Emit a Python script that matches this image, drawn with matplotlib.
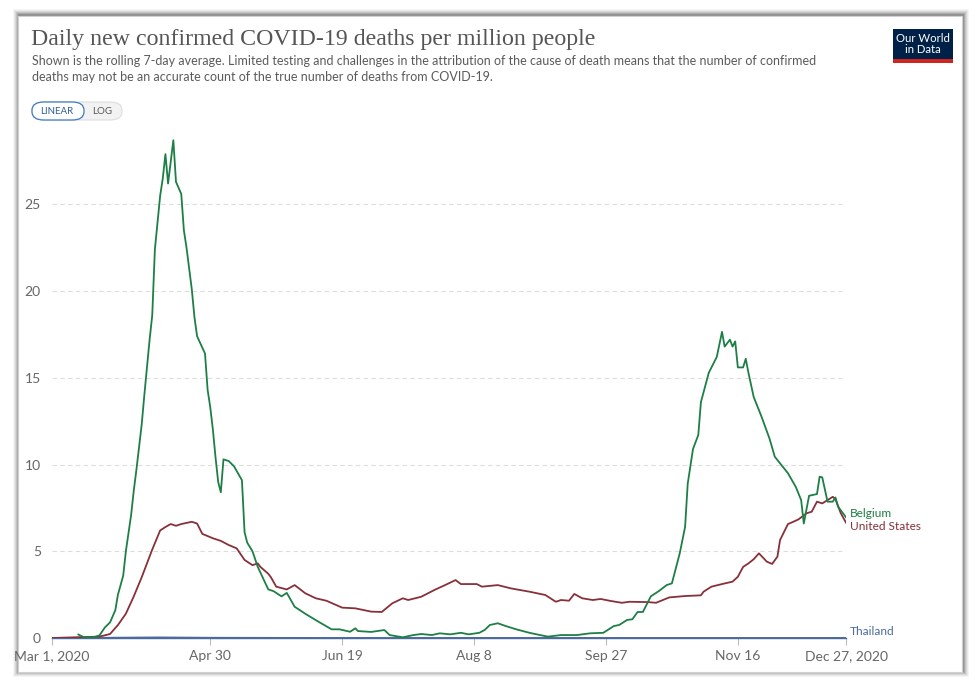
import pandas as pd
import matplotlib.pyplot as plt
from matplotlib.patches import Rectangle, FancyBboxPatch

# ------------------ Data ------------------
start = pd.Timestamp("2020-03-01")

belgium_days = [10, 12, 16, 18, 20, 22, 24, 25, 27, 28, 30, 31, 32, 34, 35, 37, 38, 39, 41, 42,
                43, 44, 46, 47, 49, 50, 51, 53, 54, 55, 58, 59, 60, 61, 62, 63, 64, 65, 67, 69,
                72, 73, 74, 76, 78, 82, 84, 87, 89, 92, 94, 96, 101, 106, 109, 113, 115, 116, 121, 126,
                128, 133, 137, 140, 144, 147, 151, 155, 158, 162, 164, 166, 169, 172, 176, 181, 185, 188, 193, 199,
                204, 209, 213, 215, 218, 220, 222, 224, 227, 230, 233, 235, 238, 240, 241, 243, 245, 246, 249, 252,
                254, 255, 257, 258, 259, 260, 262, 263, 264, 266, 269, 272, 274, 279, 282, 284, 285, 287, 290, 291,
                292, 294, 296, 297, 298, 301]
belgium_vals = [0.2, 0.05, 0.05, 0.15, 0.6, 0.9, 1.6, 2.5, 3.6, 5.0, 7.1, 8.5, 9.7, 12.3, 14.0, 17.2, 18.6, 22.4, 25.5, 26.5,
                27.9, 26.2, 28.7, 26.3, 25.6, 23.5, 22.5, 20.1, 18.5, 17.4, 16.4, 14.3, 13.3, 12.0, 10.4, 9.0, 8.4, 10.3, 10.2, 9.9,
                9.1, 6.1, 5.5, 5.0, 4.1, 2.8, 2.7, 2.4, 2.6, 1.8, 1.6, 1.4, 0.94, 0.5, 0.5, 0.36, 0.56, 0.4, 0.35, 0.46,
                0.17, 0.04, 0.17, 0.23, 0.17, 0.27, 0.21, 0.3, 0.21, 0.3, 0.46, 0.75, 0.85, 0.69, 0.5, 0.3, 0.17, 0.08, 0.17, 0.17,
                0.27, 0.3, 0.69, 0.75, 1.04, 1.08, 1.5, 1.5, 2.4, 2.7, 3.05, 3.15, 4.9, 6.4, 8.9, 10.9, 11.7, 13.6, 15.3, 16.2,
                17.65, 16.8, 17.2, 16.8, 17.1, 15.6, 15.6, 16.1, 15.3, 13.9, 12.75, 11.5, 10.45, 9.5, 8.7, 7.95, 6.6, 8.2, 8.3, 9.3,
                9.26, 7.86, 7.86, 8.1, 7.57, 6.96]

us_days = [0, 18, 22, 25, 28, 31, 34, 38, 41, 43, 45, 47, 49, 53, 55, 57, 58, 61, 64, 67,
           70, 73, 76, 78, 79, 82, 83, 85, 89, 92, 96, 100, 104, 110, 115, 121, 125, 129, 133, 135,
           140, 145, 149, 153, 155, 161, 163, 169, 174, 181, 187, 191, 193, 196, 198, 201, 205, 208, 212, 216,
           219, 226, 229, 234, 240, 246, 247, 250, 254, 258, 260, 262, 264, 266, 268, 271, 273, 275, 276, 279,
           281, 283, 286, 288, 290, 292, 294, 296, 297, 299, 301]
us_vals = [0.0, 0.08, 0.23, 0.75, 1.4, 2.4, 3.5, 5.1, 6.2, 6.4, 6.57, 6.47, 6.57, 6.7, 6.6, 6.0, 5.94, 5.75, 5.6, 5.36,
           5.17, 4.5, 4.2, 4.3, 4.1, 3.7, 3.5, 2.96, 2.8, 3.05, 2.58, 2.29, 2.15, 1.75, 1.71, 1.52, 1.5, 2.0, 2.29, 2.19,
           2.38, 2.77, 3.05, 3.34, 3.11, 3.11, 2.96, 3.05, 2.86, 2.67, 2.48, 2.09, 2.19, 2.15, 2.54, 2.29, 2.19, 2.25, 2.13, 2.03,
           2.09, 2.07, 2.03, 2.34, 2.42, 2.46, 2.67, 2.96, 3.11, 3.25, 3.53, 4.1, 4.3, 4.54, 4.88, 4.4, 4.27, 4.69, 5.65, 6.57,
           6.7, 6.84, 7.19, 7.28, 7.86, 7.76, 7.95, 8.14, 8.0, 7.2, 6.65]

thailand_days = [0, 20, 40, 60, 100, 150, 200, 250, 301]
thailand_vals = [0.0, 0.01, 0.03, 0.01, 0.0, 0.0, 0.0, 0.0, 0.0]

tick_labels = ["Mar 1, 2020", "Apr 30", "Jun 19", "Aug 8", "Sep 27", "Nov 16", "Dec 27, 2020"]
tick_dates = ["2020-03-01", "2020-04-30", "2020-06-19", "2020-08-08", "2020-09-27", "2020-11-16", "2020-12-27"]

title = "Daily new confirmed COVID-19 deaths per million people"
subtitle = ("Shown is the rolling 7-day average. Limited testing and challenges in the attribution of the cause of death means that the number of confirmed\n"
            "deaths may not be an accurate count of the true number of deaths from COVID-19.")

green = "#1d7f45"
maroon = "#883039"
blue = "#4c6a9c"
text_grey = "#666666"

to_dates = lambda days: start + pd.to_timedelta(days, unit="D")

# ------------------ Figure and card ------------------
W, H = 980, 691
fig = plt.figure(figsize=(W / 100, H / 100), dpi=100)
fig.patch.set_facecolor("white")

def fx(px):
    return px / W

def fy(py):
    return 1 - py / H

# soft shadow round the card
for i, a in enumerate([0.04, 0.05, 0.07, 0.09, 0.12, 0.15]):
    g = 6 - i
    fig.add_artist(Rectangle((fx(18 - g + 1), fy(672 + g - 1)), fx(944 + 2 * g), (672 - 16 + 2 * g) / H,
                             transform=fig.transFigure, facecolor="black", alpha=a, edgecolor="none", zorder=0))
fig.add_artist(Rectangle((fx(18), fy(672)), fx(944), (672 - 16) / H, transform=fig.transFigure,
                         facecolor="white", edgecolor="#d0d0d0", linewidth=0.8, zorder=1))

# ------------------ Header ------------------
fig.text(fx(31), fy(40), title, family="Liberation Serif", fontsize=17.2, color="#555555",
         va="center", ha="left", zorder=3)
fig.text(fx(32), fy(69), subtitle, family="Lato", fontsize=9.0, color="#5b5b5b",
         va="center", ha="left", linespacing=1.4, zorder=3)

# LINEAR / LOG toggle
fig.add_artist(FancyBboxPatch((fx(32), fy(120)), fx(90), 18 / H, boxstyle="round,pad=0,rounding_size=0.012",
                              transform=fig.transFigure, facecolor="#f2f2f2", edgecolor="#dddddd",
                              linewidth=0.8, zorder=2))
fig.add_artist(FancyBboxPatch((fx(32), fy(120)), fx(52), 18 / H, boxstyle="round,pad=0,rounding_size=0.012",
                              transform=fig.transFigure, facecolor="white", edgecolor="#3b7bbf",
                              linewidth=0.9, zorder=3))
fig.text(fx(57), fy(111), "LINEAR", family="Lato", fontsize=7.0, color="#2f5f95", ha="center", va="center", zorder=4)
fig.text(fx(102), fy(111), "LOG", family="Lato", fontsize=7.0, color="#555555", ha="center", va="center", zorder=4)

# OWID logo
fig.add_artist(Rectangle((fx(893), fy(63)), fx(60), 34 / H, transform=fig.transFigure,
                         facecolor="#002147", edgecolor="none", zorder=2))
fig.add_artist(Rectangle((fx(893), fy(63)), fx(60), 4 / H, transform=fig.transFigure,
                         facecolor="#ce261e", edgecolor="none", zorder=3))
fig.text(fx(923), fy(44), "Our World\nin Data", family="Lato", fontsize=8.2, color="white",
         ha="center", va="center", linespacing=0.95, zorder=4)

# ------------------ Chart ------------------
ax = fig.add_axes([fx(52), fy(638), fx(846 - 52), (638 - 135) / H])
ax.set_facecolor("none")
ax.set_zorder(5)

ax.plot(to_dates(thailand_days), thailand_vals, color=blue, linewidth=1.4, zorder=3)
ax.plot(to_dates(us_days), us_vals, color=maroon, linewidth=1.3, zorder=4)
ax.plot(to_dates(belgium_days), belgium_vals, color=green, linewidth=1.3, zorder=5)

ax.set_xlim(start, pd.Timestamp("2020-12-27"))
ax.set_ylim(0, 29)

ax.set_yticks([0, 5, 10, 15, 20, 25])
ax.yaxis.grid(True, color="#dddddd", linestyle=(0, (4, 3)), linewidth=0.8)
ax.tick_params(axis="y", length=0, labelsize=10, labelcolor=text_grey, pad=8)
for lbl in ax.get_yticklabels():
    lbl.set_family("Lato")

ax.set_xticks(pd.to_datetime(tick_dates))
ax.set_xticklabels(tick_labels, family="Lato", fontsize=10, color=text_grey)
ax.tick_params(axis="x", length=5, color="#bbbbbb", width=0.8, pad=4)

for side in ["top", "right", "left"]:
    ax.spines[side].set_visible(False)
ax.spines["bottom"].set_color(blue)
ax.spines["bottom"].set_linewidth(1.0)

# end-of-line labels, spread apart like the original
end = pd.Timestamp("2020-12-27")
label_x = end + pd.Timedelta(days=1.5)
ax.text(label_x, 7.2, "Belgium", family="Lato", fontsize=8.6, color=green, va="center", clip_on=False)
ax.text(label_x, 6.4, "United States", family="Lato", fontsize=8.6, color=maroon, va="center", clip_on=False)
ax.text(label_x, 0.35, "Thailand", family="Lato", fontsize=8.6, color=blue, va="center", clip_on=False)

fig.savefig("out.png", dpi=100)
